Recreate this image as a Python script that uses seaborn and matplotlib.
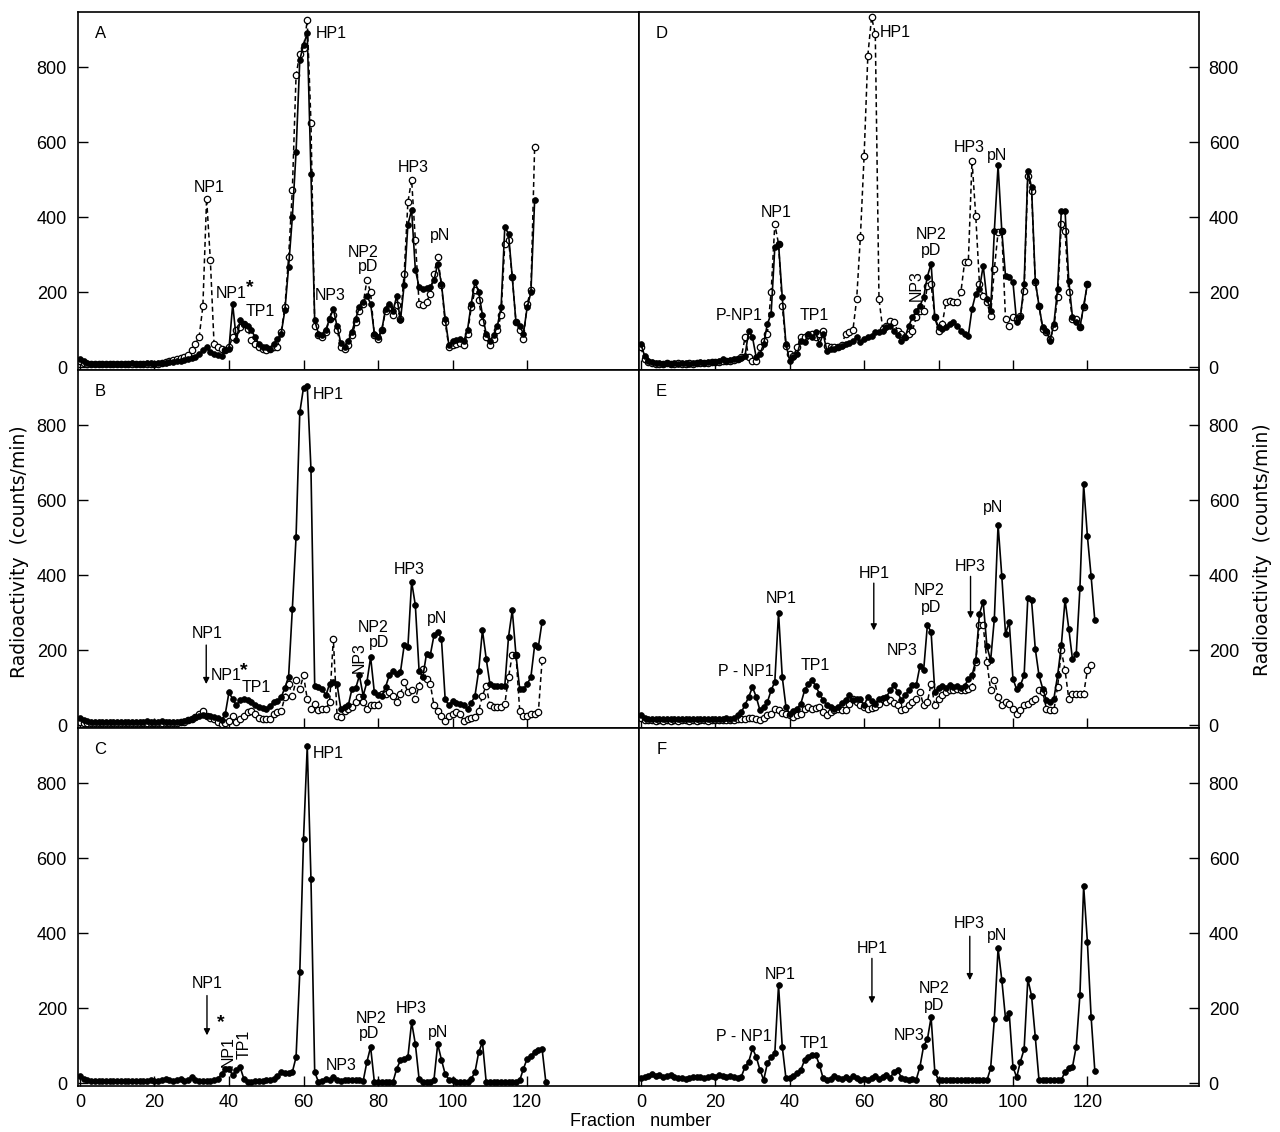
import numpy as np
import pandas as pd
import matplotlib
matplotlib.use("Agg")
import matplotlib.pyplot as plt
import seaborn as sns

# ---------------- data (counts/min per fraction, starting at fraction 0) ----------------
A_filled = [22,16,12,10,10,8,8,10,10,10,
            8,10,10,10,12,10,10,10,12,12,
            10,12,12,12,14,15,16,18,20,22,
            25,28,36,45,54,40,36,32,30,45,
            50,168,72,125,116,110,99,81,63,54,
            54,50,63,75,90,152,268,400,574,819,
            860,890,516,125,90,85,100,130,155,110,
            65,55,70,95,130,160,175,190,170,90,
            80,100,155,170,150,190,125,220,380,420,
            260,215,210,212,215,232,276,223,130,60,
            70,72,75,70,100,170,228,200,140,90,
            70,85,110,160,374,356,240,120,110,90,
            160,200,445]
A_open = [18,12,10,8,8,8,10,8,8,10,
          8,8,10,8,10,10,8,10,10,10,
          10,10,12,14,16,20,22,25,28,32,
          45,63,81,163,450,287,62,55,50,45,
          54,81,100,108,116,103,72,63,54,48,
          45,50,54,54,94,161,294,472,778,836,
          850,925,652,110,85,80,95,130,140,100,
          55,50,60,85,120,150,170,232,200,85,
          75,100,150,160,140,165,130,250,440,500,
          340,170,165,175,195,250,294,220,120,55,
          60,62,65,60,90,160,205,180,120,80,
          60,75,100,140,330,340,240,120,100,75,
          170,205,587]
B_filled = [19,14,12,10,10,9,9,10,10,9,
            9,10,9,10,10,9,10,10,12,10,
            10,10,12,10,9,10,9,10,12,14,
            17,21,26,28,26,25,22,20,14,30,
            88,70,53,68,70,68,62,55,50,46,
            44,52,62,66,75,100,130,310,502,834,
            900,905,682,106,102,97,80,111,115,110,
            44,48,53,97,99,133,79,115,182,88,
            80,79,102,133,146,137,142,213,209,383,
            320,146,129,191,187,240,249,231,70,53,
            66,60,57,53,44,60,79,146,254,178,
            111,106,106,106,106,236,307,187,97,97,
            110,129,213,209,276]
B_open = [10,6,5,5,5,5,5,5,5,5,
          5,5,5,5,5,6,5,5,6,5,
          5,5,6,5,5,5,6,8,10,14,
          18,21,30,38,26,20,17,10,4,5,
          12,26,10,18,26,35,39,30,19,17,
          17,17,30,35,39,75,111,79,120,97,
          133,70,44,57,40,44,44,62,231,26,
          21,39,44,48,62,75,62,44,53,53,
          53,84,84,88,79,62,84,115,88,93,
          70,106,151,124,111,53,39,26,12,26,
          30,35,30,12,17,19,21,39,79,106,
          53,48,48,48,57,129,187,187,39,26,
          26,30,30,35,173]
C_filled = [19,12,8,6,5,5,6,5,5,5,
            5,5,5,6,5,5,5,5,6,8,
            6,5,10,12,8,6,10,12,6,8,
            17,10,6,5,6,6,8,12,25,39,
            39,21,35,43,12,4,4,5,5,6,
            8,10,12,20,30,28,28,30,70,296,
            651,899,544,30,4,6,12,8,17,10,
            6,8,8,10,8,8,6,57,97,4,
            4,4,4,4,4,39,61,66,70,163,
            105,12,4,4,4,10,105,63,25,10,
            10,4,4,4,4,12,30,83,110,4,
            4,4,4,4,4,4,4,4,8,39,
            66,74,83,88,92,4]
D_filled = [62,31,18,15,12,12,10,12,10,12,
            10,12,12,10,12,12,14,12,14,15,
            15,18,22,18,20,22,22,25,31,98,
            80,27,36,62,116,142,320,329,187,62,
            18,27,36,71,67,89,80,93,62,89,
            44,49,50,53,58,62,65,71,80,67,
            75,80,84,93,95,98,107,111,98,85,
            71,80,111,133,151,164,187,242,276,133,
            107,102,107,116,120,111,98,90,84,156,
            196,209,271,182,151,364,538,364,244,240,
            227,120,133,222,524,480,231,164,107,98,
            71,116,209,418,418,231,133,120,107,164,
            222]
D_open = [53,22,15,12,10,10,10,12,10,10,
          12,10,10,12,10,12,12,12,12,14,
          14,15,16,18,18,20,22,27,80,27,
          18,18,53,70,89,200,382,329,164,58,
          36,31,53,80,80,85,89,80,90,98,
          58,55,53,53,60,89,93,100,182,348,
          564,831,933,889,182,102,111,124,120,98,
          89,80,90,98,133,151,151,218,222,133,
          98,116,173,178,175,173,200,280,280,551,
          404,222,190,173,138,262,360,364,129,111,
          133,129,138,204,511,471,227,164,102,93,
          76,107,187,382,364,200,129,129,107,160,
          222]
E_filled = [27,20,18,18,17,18,16,17,18,16,
            17,16,16,17,16,18,17,16,18,17,
            18,17,18,20,18,20,27,35,55,76,
            102,76,40,49,62,93,116,300,129,49,
            31,38,44,58,93,111,120,105,84,67,
            55,49,44,49,60,67,80,67,70,71,
            53,76,65,58,71,73,76,93,107,89,
            67,80,93,107,107,158,147,267,249,89,
            100,105,100,108,102,106,100,104,124,133,
            173,298,329,211,173,284,535,398,244,276,
            124,96,107,133,340,333,204,133,98,67,
            62,71,133,213,335,258,176,189,366,642,
            505,398,280]
E_open = [20,15,13,13,12,13,12,13,12,13,
          12,13,13,12,13,12,13,13,12,13,
          13,13,14,13,14,15,16,18,18,20,
          20,18,13,20,27,31,44,40,33,30,
          27,22,27,31,44,49,44,46,49,36,
          27,35,40,44,42,40,58,71,62,55,
          49,44,47,49,58,71,62,67,60,53,
          40,44,53,62,71,89,53,62,111,53,
          71,80,90,95,93,96,95,94,98,102,
          169,268,267,169,93,120,76,53,62,58,
          44,31,40,53,58,65,71,93,89,44,
          40,40,102,200,147,71,84,84,84,84,
          147,160]
F_filled = [15,18,20,25,20,22,18,20,22,18,
            15,14,12,14,16,18,16,15,18,20,
            18,22,20,18,20,16,14,18,44,58,
            93,71,36,9,53,71,80,262,98,13,
            13,20,27,36,62,71,76,76,49,13,
            10,12,20,14,12,18,12,20,14,10,
            12,10,14,20,12,16,22,14,31,36,
            15,12,10,12,10,44,100,117,176,31,
            9,9,9,9,9,9,9,8,8,8,
            8,8,8,8,40,171,360,276,173,187,
            44,16,58,91,278,233,124,9,9,9,
            9,9,9,9,31,40,44,98,236,526,
            378,178,34]

x_ticks = [0, 20, 40, 60, 80, 100, 120]
y_ticks = [0, 200, 400, 600, 800]

panel_series = {
    "A": (A_filled, A_open), "B": (B_filled, B_open), "C": (C_filled, None),
    "D": (D_filled, D_open), "E": (E_filled, E_open), "F": (F_filled, None),
}

# text annotations: (text, fraction, value, rotation)
panel_labels = {
    "A": [("HP1", 67.5, 890, 0), ("NP1", 34.7, 480, 0), ("NP1", 40.6, 197, 0),
          ("TP1", 48.4, 148, 0), ("NP3", 67.2, 192, 0), ("NP2", 76.0, 307, 0),
          ("pD", 77.2, 270, 0), ("HP3", 89.5, 533, 0), ("pN", 96.5, 352, 0)],
    "B": [("HP1", 66.7, 883, 0), ("NP1", 34.1, 244, 0), ("NP1", 39.2, 134, 0),
          ("TP1", 47.3, 102, 0), ("NP3", 75.0, 180, 90), ("NP2", 78.7, 262, 0),
          ("pD", 80.3, 222, 0), ("HP3", 88.4, 415, 0), ("pN", 95.7, 284, 0)],
    "C": [("HP1", 66.7, 880, 0), ("NP1", 34.1, 266, 0), ("NP1", 39.7, 84, 90),
          ("TP1", 44.2, 104, 90), ("NP3", 70.2, 48, 0), ("NP2", 78.2, 173, 0),
          ("pD", 77.7, 133, 0), ("HP3", 89.0, 199, 0), ("pN", 96.2, 136, 0)],
    "D": [("HP1", 68.5, 893, 0), ("NP1", 36.3, 413, 0), ("P-NP1", 26.3, 139, 0),
          ("TP1", 46.5, 139, 0), ("NP3", 74.0, 218, 90), ("NP2", 77.9, 355, 0),
          ("pD", 77.9, 312, 0), ("HP3", 88.2, 587, 0), ("pN", 95.7, 565, 0)],
    "E": [("HP1", 62.6, 405, 0), ("NP1", 37.6, 339, 0), ("P - NP1", 28.2, 144, 0),
          ("TP1", 46.8, 160, 0), ("NP3", 70.2, 200, 0), ("NP2", 77.4, 360, 0),
          ("pD", 78.0, 315, 0), ("HP3", 88.4, 424, 0), ("pN", 94.6, 581, 0)],
    "F": [("HP1", 62.1, 360, 0), ("NP1", 37.4, 291, 0), ("P - NP1", 27.7, 125, 0),
          ("TP1", 46.5, 107, 0), ("NP3", 72.0, 128, 0), ("NP2", 78.8, 253, 0),
          ("pD", 78.8, 208, 0), ("HP3", 88.2, 427, 0), ("pN", 95.7, 395, 0)],
}
# asterisks (fraction, value)
panel_stars = {"A": [(45.5, 212)], "B": [(44.0, 145)], "C": [(37.9, 162)]}
# arrows (fraction, value_start, value_end)
panel_arrows = {"B": [(33.9, 214, 110)], "C": [(34.1, 234, 128)],
                "E": [(62.6, 379, 253), (88.6, 397, 285)],
                "F": [(62.1, 333, 213), (88.4, 392, 275)]}

# ---------------- style ----------------
sns.set_theme(style="ticks")
plt.rcParams["font.family"] = ["Liberation Sans", "DejaVu Sans"]
plt.rcParams["axes.linewidth"] = 1.2
plt.rcParams["text.color"] = "black"
plt.rcParams["axes.labelcolor"] = "black"
plt.rcParams["xtick.color"] = "black"
plt.rcParams["ytick.color"] = "black"
plt.rcParams["axes.edgecolor"] = "black"

W_PX, H_PX = 1280, 1132
fig = plt.figure(figsize=(W_PX / 100, H_PX / 100), dpi=100)

top_px, bot_px = 12, 1086
row_h = (bot_px - top_px) / 3
col_x = [(78, 639), (639, 1199)]
layout = [["A", "D"], ["B", "E"], ["C", "F"]]


def draw_series(ax, vals, filled):
    df = pd.DataFrame({"fraction": np.arange(len(vals)), "cpm": vals})
    if filled:
        sns.lineplot(data=df, x="fraction", y="cpm", ax=ax, color="black",
                     linewidth=1.2, marker="o", markersize=4.2,
                     markerfacecolor="black", markeredgecolor="black",
                     markeredgewidth=0.5, estimator=None, sort=False, zorder=3)
    else:
        sns.lineplot(data=df, x="fraction", y="cpm", ax=ax, color="black",
                     linewidth=1.1, linestyle=(0, (3.2, 2.2)), marker="o",
                     markersize=4.6, markerfacecolor="white",
                     markeredgecolor="black", markeredgewidth=0.9,
                     estimator=None, sort=False, zorder=2)


for r in range(3):
    for c in range(2):
        key = layout[r][c]
        x0, x1 = col_x[c]
        y_top = top_px + r * row_h
        ax = fig.add_axes([x0 / W_PX, 1 - (y_top + row_h) / H_PX,
                           (x1 - x0) / W_PX, row_h / H_PX])
        filled, opened = panel_series[key]
        if opened is not None:
            draw_series(ax, opened, False)
        draw_series(ax, filled, True)

        ax.set_xlim(-0.5, 150)
        ax.set_ylim(-7, 947)
        ax.set_xticks(x_ticks)
        ax.set_yticks(y_ticks)
        ax.set_xlabel("")
        ax.set_ylabel("")
        for sp in ax.spines.values():
            sp.set_visible(True)
            sp.set_color("black")
            sp.set_linewidth(1.2)
        ax.tick_params(axis="both", direction="in", length=7, width=1.0,
                       labelsize=13, colors="black")
        ax.tick_params(axis="x", pad=6, labelbottom=(r == 2))
        if c == 0:
            ax.tick_params(axis="y", left=True, right=False, labelleft=True,
                           labelright=False, pad=8)
        else:
            ax.yaxis.tick_right()
            ax.tick_params(axis="y", left=False, right=True, labelleft=False,
                           labelright=True, pad=7)

        # panel letter
        ax.text(5.5, 890, key, fontsize=12, ha="center", va="center",
                color="black")
        for txt, fx, vy, rot in panel_labels[key]:
            ax.text(fx, vy, txt, fontsize=11.5, ha="center", va="center",
                    rotation=rot, color="black")
        for fx, vy in panel_stars.get(key, []):
            ax.text(fx, vy, "*", fontsize=14, fontweight="bold",
                    ha="center", va="center", color="black")
        for fx, v0, v1 in panel_arrows.get(key, []):
            ax.annotate("", xy=(fx, v1), xytext=(fx, v0),
                        arrowprops=dict(arrowstyle="-|>", color="black",
                                        lw=1.0, mutation_scale=9,
                                        shrinkA=0, shrinkB=0))

lab_font = ["DejaVu Sans"]
fig.text(20 / W_PX, 1 - 552 / H_PX, "Radioactivity  (counts/min)",
         rotation=90, ha="center", va="center", fontsize=13.5,
         family=lab_font, color="black")
fig.text(1263 / W_PX, 1 - 550 / H_PX, "Radioactivity  (counts/min)",
         rotation=90, ha="center", va="center", fontsize=13.5,
         family=lab_font, color="black")
fig.text(641 / W_PX, 1 - 1122 / H_PX, "Fraction   number",
         ha="center", va="center", fontsize=13, color="black")

fig.savefig("out.png", dpi=100, facecolor="white")
